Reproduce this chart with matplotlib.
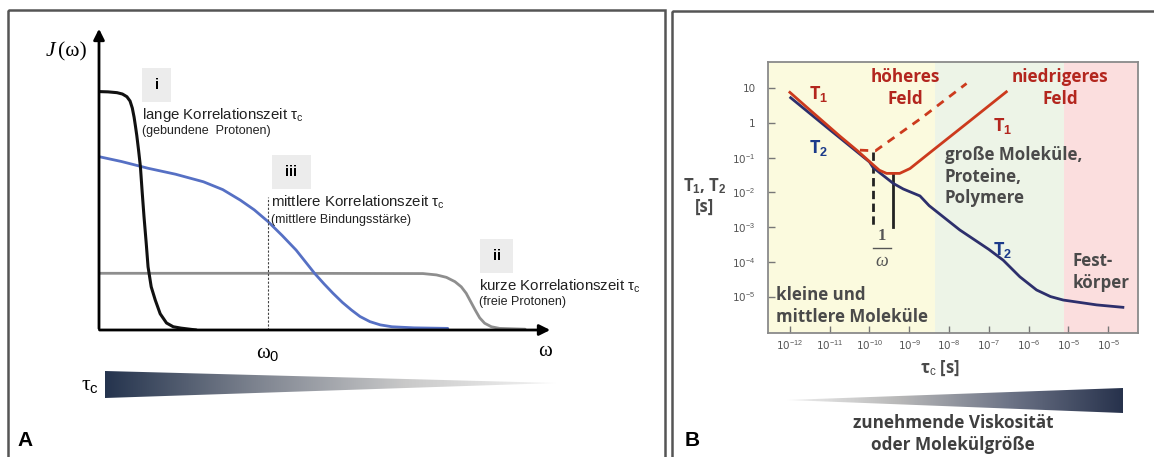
import numpy as np
import matplotlib
matplotlib.use("Agg")
import matplotlib.pyplot as plt
from matplotlib.patches import Rectangle, Polygon
from matplotlib.colors import LinearSegmentedColormap

plt.rcParams['mathtext.fontset'] = 'custom'
plt.rcParams['mathtext.rm'] = 'Liberation Sans'
plt.rcParams['mathtext.it'] = 'Liberation Sans:italic'
plt.rcParams['mathtext.bf'] = 'Liberation Sans:bold'

W, H = 1154, 457

# --- Panel A : spectral density curves J(omega) ---
black_x = [0, 0.2, 0.4, 0.52, 0.62, 0.69, 0.74, 0.78, 0.81, 0.84, 0.88, 0.92, 0.96, 1.0, 1.05, 1.09, 1.16, 1.25, 1.36, 1.50, 1.65, 1.82, 2.16]
black_y = [8.83, 8.82, 8.79, 8.74, 8.64, 8.48, 8.22, 7.88, 7.55, 7.20, 6.65, 6.05, 5.10, 4.20, 3.20, 2.34, 1.60, 1.11, 0.60, 0.26, 0.12, 0.07, 0.0]

blue_x = [0, 0.5, 1.09, 1.7, 2.32, 2.75, 3.14, 3.45, 3.76, 4.07, 4.38, 4.59, 4.79, 5.0, 5.20, 5.41, 5.61, 5.80, 6.02, 6.25, 6.51, 7.0, 7.75]
blue_y = [6.42, 6.24, 5.99, 5.77, 5.49, 5.20, 4.81, 4.45, 4.01, 3.50, 2.96, 2.52, 2.10, 1.71, 1.36, 1.02, 0.74, 0.50, 0.31, 0.19, 0.12, 0.08, 0.06]

gray_x = [0, 4.0, 7.2, 7.50, 7.72, 7.91, 8.05, 8.16, 8.26, 8.36, 8.46, 8.57, 8.72, 8.90, 9.47]
gray_y = [2.10, 2.10, 2.09, 2.04, 1.95, 1.79, 1.60, 1.36, 1.05, 0.74, 0.45, 0.25, 0.12, 0.06, 0.03]

omega0 = 3.76

# --- Panel B : relaxation times vs correlation time (log10 values) ---
t1_low_tau = [-12.0, -11.5, -11.0, -10.74, -10.3, -9.91, -9.75, -9.57, -9.24, -8.98, -8.5, -7.5, -6.56]
t1_low_T = [0.885, 0.38, -0.12, -0.38, -0.80, -1.20, -1.36, -1.45, -1.45, -1.31, -0.87, 0.04, 0.90]

t1_high_tau = [-10.24, -9.85, -8.7, -7.56]
t1_high_T = [-0.78, -0.80, 0.14, 1.14]

t2_tau = [-11.98, -11.0, -10.74, -10.0, -9.91, -9.4, -9.15, -8.73, -8.5, -7.73, -7.0, -6.64, -6.22, -5.80, -5.45, -5.13, -4.29, -3.63]
t2_T = [0.73, -0.19, -0.43, -1.12, -1.28, -1.74, -1.90, -2.10, -2.38, -3.08, -3.64, -3.95, -4.43, -4.81, -5.0, -5.10, -5.24, -5.31]

tau_ticks = [-12, -11, -10, -9, -8, -7, -6, -5, -4]
tau_labels = ['10$^{-12}$', '10$^{-11}$', '10$^{-10}$', '10$^{-9}$', '10$^{-8}$',
              '10$^{-7}$', '10$^{-6}$', '10$^{-5}$', '10$^{-5}$']
T_ticks = [1, 0, -1, -2, -3, -4, -5]
T_labels = ['10', '1', '10$^{-1}$', '10$^{-2}$', '10$^{-3}$', '10$^{-4}$', '10$^{-5}$']

regions = [(-12.55, -8.36, '#fbfade'), (-8.36, -5.12, '#edf4e7'), (-5.12, -3.25, '#fbdede')]
inv_omega = [-9.91, -9.40]


def box(x0, y0, x1, y1):
    return [x0 / W, 1 - y1 / H, (x1 - x0) / W, (y1 - y0) / H]


fig = plt.figure(figsize=(W / 100, H / 100), dpi=100)

# ---------------- Panel A ----------------
axA = fig.add_axes(box(99, 20, 560, 330))
axA.set_xlim(0, (560 - 99) / 45)
axA.set_ylim(0, (330 - 20) / 27)
axA.axis('off')
axA.patch.set_alpha(0)

axA.plot(gray_x, gray_y, color='#8e8e8e', lw=2, solid_capstyle='round')
axA.plot(blue_x, blue_y, color='#5670c4', lw=2, solid_capstyle='round')
axA.plot(black_x, black_y, color='#111111', lw=2.2, solid_capstyle='round')
axA.plot([omega0, omega0], [0, 4.93], color='#444444', lw=0.8, ls=(0, (2, 1.5)))

axA.annotate('', xy=(0, (330 - 26) / 27), xytext=(0, -0.05),
             arrowprops=dict(arrowstyle='-|>', lw=2, color='black', mutation_scale=16),
             annotation_clip=False)
axA.annotate('', xy=((553 - 99) / 45, 0), xytext=(-0.05, 0),
             arrowprops=dict(arrowstyle='-|>', lw=2, color='black', mutation_scale=16),
             annotation_clip=False)

# ---------------- Panel B ----------------
axB = fig.add_axes(box(768, 62, 1138, 333))
axB.set_xlim(-12.55, -3.25)
axB.set_ylim(-6.05, 1.76)
for x0, x1, c in regions:
    axB.axvspan(x0, x1, color=c, lw=0, zorder=0)

axB.plot([inv_omega[0]] * 2, [-0.83, -2.99], color='#222222', lw=2, ls=(0, (3, 1.6)), zorder=2)
axB.plot([inv_omega[1]] * 2, [-1.45, -2.99], color='#222222', lw=2, zorder=2)
axB.plot(t2_tau, t2_T, color='#2d2f6c', lw=2, zorder=3)
axB.plot(t1_high_tau, t1_high_T, color='#cc3a1d', lw=2, ls=(0, (3, 2.5)), zorder=3)
axB.plot(t1_low_tau, t1_low_T, color='#cc3a1d', lw=2, zorder=4)

axB.set_xticks(tau_ticks)
axB.set_xticklabels(tau_labels)
axB.set_yticks(T_ticks)
axB.set_yticklabels(T_labels)
axB.tick_params(direction='in', length=5, width=1, color='#777777', labelsize=7.5,
                labelcolor='#555555')
axB.tick_params(axis='y', pad=9)
axB.tick_params(axis='x', pad=4)
for s in axB.spines.values():
    s.set_color('#8a8a8a')
    s.set_linewidth(1.3)

# overlay in pixel coords for frames, labels and gradients (on top)
ov = fig.add_axes([0, 0, 1, 1])
ov.axis('off')
ov.patch.set_alpha(0)
ov.set_zorder(10)

ov.add_patch(Rectangle((8, 10), 657, 470, fill=False, lw=1.8, ec='#555555'))
ov.add_patch(Rectangle((672, 11), 500, 470, fill=False, lw=1.8, ec='#555555'))


def gradient(x0, x1, y0, y1, poly, colors):
    cmap = LinearSegmentedColormap.from_list('g', colors)
    grad = np.linspace(0, 1, 256).reshape(1, -1)
    im = ov.imshow(grad, extent=[x0, x1, y1, y0], aspect='auto', cmap=cmap, zorder=1)
    p = Polygon(poly, closed=True, fc='none', ec='none')
    ov.add_patch(p)
    im.set_clip_path(p)


gradient(105, 556, 371, 398, [(105, 371), (556, 383), (105, 398)],
         ['#25344e', '#7d838f', '#c9c9c9', '#f4f4f4'])
gradient(787, 1123, 388, 413, [(787, 400), (1123, 388), (1123, 413)],
         ['#f0f0f0', '#b8b8b8', '#6c7386', '#27324c'])
ov.set_xlim(0, W)
ov.set_ylim(H, 0)

ov.text(50, 51, 'J', family='Liberation Serif', style='italic', fontsize=15.5, ha='center', va='center')
ov.text(72, 52, '(ω)', family='Liberation Serif', fontsize=15.5, ha='center', va='center')
ov.text(268, 354, 'ω$_0$', family='Liberation Serif', fontsize=15, ha='center', va='center')
ov.text(545, 352, 'ω', family='Liberation Serif', fontsize=15, ha='center', va='center')
ov.text(90, 386, 'τ$_\\mathrm{c}$', family='Liberation Serif', fontsize=15.5, ha='center', va='center')
ov.text(17, 441, 'A', family='Liberation Sans', weight='bold', fontsize=15, ha='left', va='center')

for (x0, y0, x1, y1, lab) in [(142, 68, 171, 102, 'i'), (272, 155, 311, 189, 'iii'),
                              (480, 239, 513, 273, 'ii')]:
    ov.add_patch(Rectangle((x0, y0), x1 - x0, y1 - y0, fc='#ececec', ec='none'))
    ov.text((x0 + x1) / 2, (y0 + y1) / 2, lab, family='Liberation Sans', weight='bold',
            fontsize=10.5, ha='center', va='center')

main_kw = dict(family='Liberation Sans', fontsize=10.8, color='#222222', ha='left', va='center')
sub_kw = dict(family='Liberation Sans', fontsize=9, color='#222222', ha='left', va='center')
ov.text(142, 115, 'lange Korrelationszeit τ$_\\mathrm{c}$', **main_kw)
ov.text(142, 131, '(gebundene  Protonen)', **sub_kw)
ov.text(271, 202, 'mittlere Korrelationszeit τ$_\\mathrm{c}$', **main_kw)
ov.text(271, 220, '(mittlere Bindungsstärke)', **sub_kw)
ov.text(479, 286, 'kurze Korrelationszeit τ$_\\mathrm{c}$', **main_kw)
ov.text(479, 302, '(freie Protonen)', **sub_kw)

bkw = dict(family='Open Sans', weight='bold')
red = '#b3261e'
ov.text(905, 77, 'höheres', color=red, fontsize=12.3, ha='center', va='center', **bkw)
ov.text(905, 99, 'Feld', color=red, fontsize=12.3, ha='center', va='center', **bkw)
ov.text(1060, 77, 'niedrigeres', color=red, fontsize=12.3, ha='center', va='center', **bkw)
ov.text(1060, 99, 'Feld', color=red, fontsize=12.3, ha='center', va='center', **bkw)
ov.text(809, 94, 'T$_\\mathbf{1}$', color=red, fontsize=13, ha='left', va='center', **bkw)
ov.text(993, 126, 'T$_\\mathbf{1}$', color=red, fontsize=13, ha='left', va='center', **bkw)
ov.text(809, 148, 'T$_\\mathbf{2}$', color='#1b3a8a', fontsize=13, ha='left', va='center', **bkw)
ov.text(993, 250, 'T$_\\mathbf{2}$', color='#1b3a8a', fontsize=13, ha='left', va='center', **bkw)

gkw = dict(color='#4a4a4a', fontsize=12.2, ha='left', va='center', **bkw)
ov.text(945, 155, 'große Moleküle,', **gkw)
ov.text(945, 177, 'Proteine,', **gkw)
ov.text(945, 198, 'Polymere', **gkw)
ov.text(1073, 261, 'Fest-', **gkw)
ov.text(1073, 283, 'körper', **gkw)
ov.text(776, 295, 'kleine und', **gkw)
ov.text(776, 317, 'mittlere Moleküle', **gkw)

ov.text(705, 186, 'T$_\\mathbf{1}$, T$_\\mathbf{2}$', color='#4a4a4a', fontsize=12, ha='center', va='center', **bkw)
ov.text(705, 207, '[s]', color='#4a4a4a', fontsize=12, ha='center', va='center', **bkw)
ov.text(940, 368, 'τ$_\\mathrm{c}$ [s]', color='#4a4a4a', fontsize=12, ha='center', va='center', **bkw)

# 1/omega label
ov.text(882, 236, '1', family='Liberation Serif', weight='bold', fontsize=12, color='#555555', ha='center', va='center')
ov.plot([873, 891], [248, 248], color='#555555', lw=1)
ov.text(882, 261, 'ω', family='Liberation Serif', style='italic', fontsize=13, color='#555555', ha='center', va='center')

ov.text(953, 423, 'zunehmende Viskosität', color='#3f3f3f', fontsize=12.3, ha='center', va='center', **bkw)
ov.text(953, 445, 'oder Molekülgröße', color='#3f3f3f', fontsize=12.3, ha='center', va='center', **bkw)
ov.text(685, 440, 'B', family='Liberation Sans', weight='bold', fontsize=15, ha='left', va='center')

fig.savefig('out.png', dpi=100)
